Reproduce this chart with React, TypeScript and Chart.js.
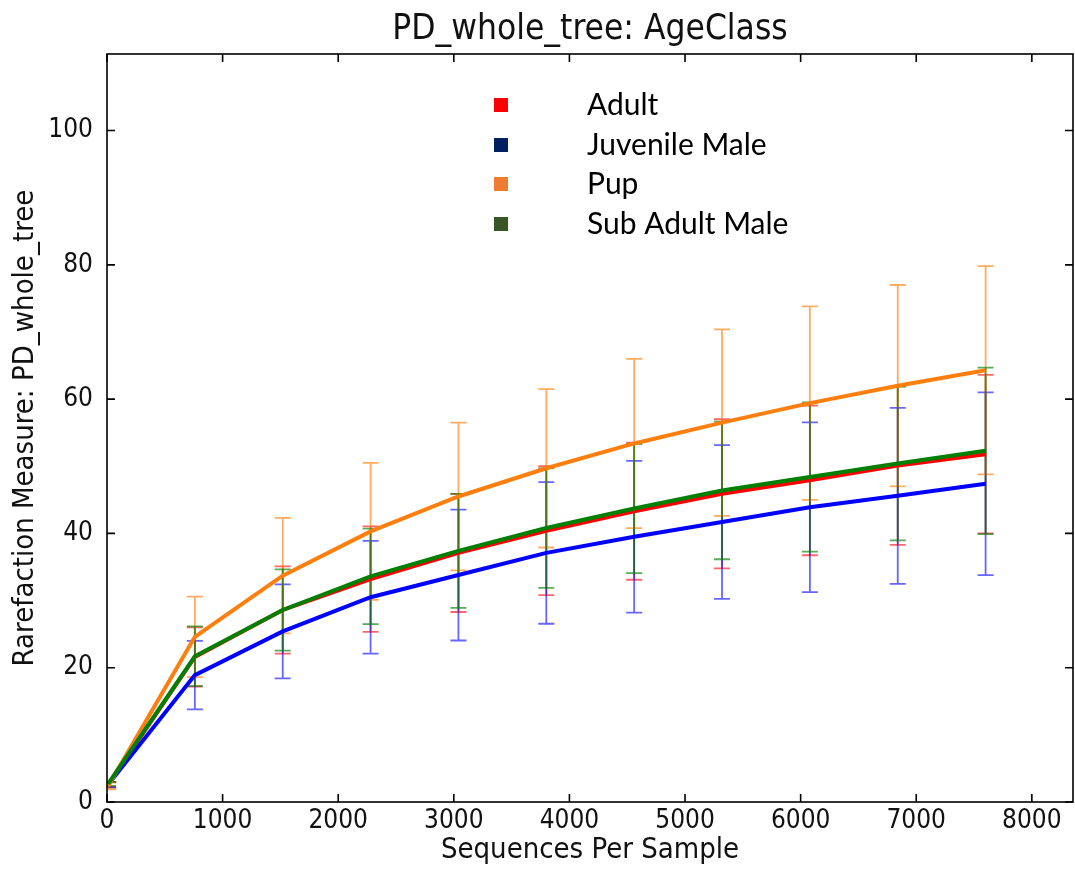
import React, { useEffect, useRef } from "react";
import { Chart, registerables } from "chart.js";

Chart.register(...registerables);

const seqPerSample = [10, 760, 1520, 2280, 3040, 3800, 4560, 5320, 6080, 6840, 7600];

const adultMean = [2.6, 21.6, 28.6, 33.2, 37.1, 40.4, 43.3, 45.9, 47.9, 50.1, 51.8];
const adultStd = [0.4, 4.4, 6.5, 7.85, 8.8, 9.6, 10.2, 11.1, 11.15, 11.8, 11.8];
const juvenileMean = [2.6, 18.9, 25.4, 30.5, 33.8, 37.1, 39.5, 41.7, 43.9, 45.6, 47.4];
const juvenileStd = [0.4, 5.1, 7.0, 8.4, 9.75, 10.55, 11.3, 11.45, 12.65, 13.1, 13.6];
const pupMean = [2.4, 24.6, 33.7, 40.3, 45.5, 49.7, 53.4, 56.5, 59.4, 62.0, 64.3];
const pupStd = [0.5, 6.0, 8.6, 10.2, 11.0, 11.8, 12.6, 13.9, 14.4, 15.0, 15.5];
const subAdultMean = [2.7, 21.7, 28.6, 33.6, 37.4, 40.8, 43.7, 46.4, 48.4, 50.4, 52.3];
const subAdultStd = [0.3, 4.45, 6.05, 7.1, 8.5, 8.9, 9.6, 10.25, 11.1, 11.45, 12.4];

const chartTitle = "PD_whole_tree: AgeClass";
const seriesLabels = ["Adult", "Juvenile Male", "Pup", "Sub Adult Male"];
const lineColors = ["#ff0000", "#0000ff", "#ff7f0e", "#008000"];
const errColors = ["rgba(255,0,0,0.6)", "rgba(0,0,255,0.6)", "rgba(255,127,14,0.65)", "rgba(0,128,0,0.65)"];
const legendColors = ["#ff0000", "#002060", "#ed7d31", "#375623"];

const xTicks = [0, 1000, 2000, 3000, 4000, 5000, 6000, 7000, 8000];
const yTicks = [0, 20, 40, 60, 80, 100];

const means = [adultMean, juvenileMean, pupMean, subAdultMean];
const stds = [adultStd, juvenileStd, pupStd, subAdultStd];

const TICK_FONT = "'DejaVu Sans Condensed', 'DejaVu Sans', sans-serif";

const errorBarPlugin = {
  id: "errorBars",
  beforeDatasetsDraw(chart: any) {
    const { ctx, scales } = chart;
    const xs = scales.x;
    const ys = scales.y;
    ctx.save();
    ctx.beginPath();
    ctx.rect(chart.chartArea.left, chart.chartArea.top, chart.chartArea.right - chart.chartArea.left, chart.chartArea.bottom - chart.chartArea.top);
    ctx.clip();
    ctx.lineWidth = 1.8;
    for (let s = 0; s < means.length; s++) {
      ctx.strokeStyle = errColors[s];
      for (let i = 0; i < seqPerSample.length; i++) {
        const px = xs.getPixelForValue(seqPerSample[i]);
        const top = ys.getPixelForValue(means[s][i] + stds[s][i]);
        const bot = ys.getPixelForValue(means[s][i] - stds[s][i]);
        ctx.beginPath();
        ctx.moveTo(px, top);
        ctx.lineTo(px, bot);
        ctx.moveTo(px - 8, top);
        ctx.lineTo(px + 8, top);
        ctx.moveTo(px - 8, bot);
        ctx.lineTo(px + 8, bot);
        ctx.stroke();
      }
    }
    ctx.restore();
  },
};

const framePlugin = {
  id: "frame",
  afterDraw(chart: any) {
    const { ctx, chartArea, scales } = chart;
    const { left, right, top, bottom } = chartArea;
    ctx.save();
    ctx.strokeStyle = "#000";
    ctx.lineWidth = 1.6;
    ctx.strokeRect(left, top, right - left, bottom - top);
    const tl = 8;
    ctx.beginPath();
    for (const v of xTicks) {
      const px = scales.x.getPixelForValue(v);
      ctx.moveTo(px, bottom);
      ctx.lineTo(px, bottom - tl);
      ctx.moveTo(px, top);
      ctx.lineTo(px, top + tl);
    }
    for (const v of yTicks) {
      const py = scales.y.getPixelForValue(v);
      ctx.moveTo(left, py);
      ctx.lineTo(left + tl, py);
      ctx.moveTo(right, py);
      ctx.lineTo(right - tl, py);
    }
    ctx.stroke();

    // title centred over the plot area
    ctx.fillStyle = "#111";
    ctx.font = "35px " + TICK_FONT;
    ctx.textAlign = "center";
    ctx.textBaseline = "middle";
    ctx.fillText(chartTitle, (left + right) / 2, 30);

    // legend
    ctx.font = "30px Lato, 'Noto Sans', sans-serif";
    ctx.textBaseline = "middle";
    ctx.textAlign = "left";
    const rowY = [105, 145, 184, 224];
    for (let i = 0; i < seriesLabels.length; i++) {
      ctx.fillStyle = legendColors[i];
      ctx.fillRect(494, rowY[i] - 7, 14, 14);
      ctx.fillStyle = "#000";
      ctx.fillText(seriesLabels[i], 587, rowY[i]);
    }
    ctx.restore();
  },
};

export default function App() {
  const canvasRef = useRef<HTMLCanvasElement | null>(null);

  useEffect(() => {
    document.body.style.margin = "0";
    const canvas = canvasRef.current;
    if (!canvas) return;
    const datasets = seriesLabels.map((label, s) => ({
      label,
      data: seqPerSample.map((x, i) => ({ x, y: means[s][i] })),
      borderColor: lineColors[s],
      backgroundColor: lineColors[s],
      borderWidth: 4,
      pointRadius: 0,
      tension: 0,
      fill: false,
      order: [3, 2, 1, 0][s],
    }));
    const chart = new Chart(canvas, {
      type: "line",
      data: { datasets },
      plugins: [errorBarPlugin, framePlugin],
      options: {
        responsive: false,
        animation: false,
        devicePixelRatio: 1,
        layout: { padding: { top: 54, right: 2, bottom: 0, left: 0 } },
        plugins: {
          legend: { display: false },
          tooltip: { enabled: false },
          title: { display: false },
        },
        scales: {
          x: {
            type: "linear",
            min: 0,
            max: 8356,
            afterBuildTicks: (scale: any) => {
              scale.ticks = xTicks.map((v) => ({ value: v }));
            },
            afterFit: (scale: any) => {
              scale.height = 67;
            },
            grid: { display: false, drawTicks: false },
            border: { display: false },
            ticks: {
              color: "#111",
              padding: 4,
              maxRotation: 0,
              autoSkip: false,
              font: { family: TICK_FONT, size: 26 },
              callback: (v: any) => String(v),
            },
            title: {
              display: true,
              text: "Sequences Per Sample",
              color: "#111",
              font: { family: TICK_FONT, size: 29, lineHeight: 1.2 },
              padding: { top: 0, bottom: 1 },
            },
          },
          y: {
            type: "linear",
            min: 0,
            max: 111.4,
            afterBuildTicks: (scale: any) => {
              scale.ticks = yTicks.map((v) => ({ value: v }));
            },
            afterFit: (scale: any) => {
              scale.width = 107;
            },
            grid: { display: false, drawTicks: false },
            border: { display: false },
            ticks: {
              color: "#111",
              padding: 14,
              autoSkip: false,
              font: { family: TICK_FONT, size: 26 },
              callback: (v: any) => String(v),
            },
            title: {
              display: true,
              text: "Rarefaction Measure: PD_whole_tree",
              color: "#111",
              font: { family: TICK_FONT, size: 29, lineHeight: 1.2 },
              padding: { top: 8, bottom: 0 },
            },
          },
        },
      } as any,
    });
    return () => chart.destroy();
  }, []);

  return (
    <div style={{ width: 1075, height: 869 }}>
      <canvas ref={canvasRef} width={1075} height={869} style={{ display: "block" }} />
    </div>
  );
}
